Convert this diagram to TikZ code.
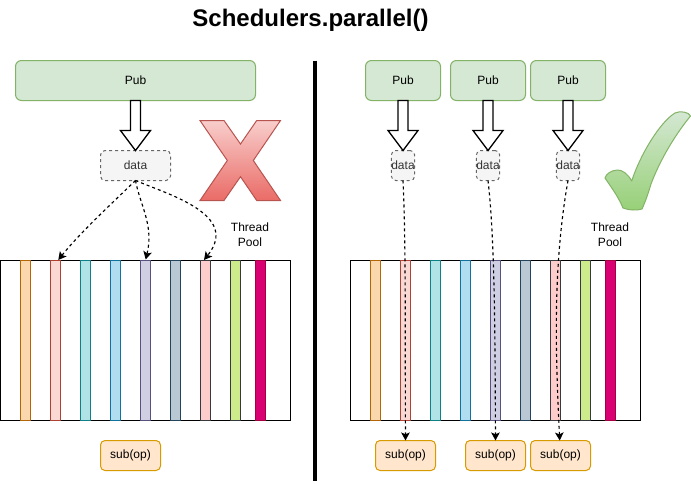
\documentclass[tikz,border=0pt]{standalone}
\usepackage{fontspec}
\setmainfont{Liberation Sans}
\usetikzlibrary{arrows.meta}
\definecolor{pubf}{HTML}{D5E8D4}\definecolor{pubd}{HTML}{82B366}
\definecolor{subf}{HTML}{FFE6CC}\definecolor{subd}{HTML}{D79B00}
\definecolor{dataf}{HTML}{F5F5F5}\definecolor{datad}{HTML}{666666}
\definecolor{datat}{HTML}{333333}
\definecolor{xtop}{HTML}{F8CECC}\definecolor{xbot}{HTML}{EA6B66}\definecolor{xd}{HTML}{B85450}
\definecolor{cbot}{HTML}{97D077}
\definecolor{af}{HTML}{FAD7AC}\definecolor{ad}{HTML}{B46504}
\definecolor{bf}{HTML}{FAD9D5}\definecolor{bd}{HTML}{AE4132}
\definecolor{cf}{HTML}{B0E3E6}\definecolor{cd}{HTML}{0E8088}
\definecolor{df}{HTML}{B1DDF0}\definecolor{dd}{HTML}{10739E}
\definecolor{ef}{HTML}{D0CEE2}\definecolor{ed}{HTML}{56517E}
\definecolor{ff}{HTML}{BAC8D3}\definecolor{fd}{HTML}{23445D}
\definecolor{gf}{HTML}{FFCCCC}\definecolor{gd}{HTML}{36393D}
\definecolor{hf}{HTML}{CDEB8B}
\definecolor{jf}{HTML}{D80073}\definecolor{jd}{HTML}{A50040}
\tikzset{
  base/.style={inner sep=0pt,outer sep=0pt,font=\fontsize{12}{15}\selectfont,align=center,line width=1pt},
  pubbox/.style={base,draw=pubd,fill=pubf,rounded corners=6pt,minimum height=40pt},
  databox/.style={base,draw=datad,fill=dataf,text=datat,dashed,dash pattern=on 3pt off 3pt,rounded corners=4.5pt,minimum height=30pt},
  subbox/.style={base,draw=subd,fill=subf,rounded corners=4.5pt,minimum width=60pt,minimum height=30pt},
  pool/.style={base,draw=black,fill=white,minimum width=290pt,minimum height=160pt},
  strip/.style={base,minimum width=10pt,minimum height=160pt},
  label/.style={base,text=black},
  flow/.style={line width=1.15pt,dash pattern=on 3pt off 3pt,-{Stealth[length=8pt,width=8.5pt,inset=1.8pt]}},
  blockarrow/.style={draw=black,fill=white,line width=1.3pt,line join=miter},
}
\newcommand{\blockarr}[2]{\draw[blockarrow] ([xshift=-5pt]#1.south) -- ++(0,30) -- ++(-10,0) -- (#2.north) -- ++(15,-20) -- ++(-10,0) -- ([xshift=5pt]#1.south) -- cycle;}
\newcommand{\strips}[2]{%
  \node[strip,draw=ad,fill=af] (#1a) at (#2+25,340.5) {};
  \node[strip,draw=bd,fill=bf] (#1b) at (#2+55,340.5) {};
  \node[strip,draw=cd,fill=cf] (#1c) at (#2+85,340.5) {};
  \node[strip,draw=dd,fill=df] (#1d) at (#2+115,340.5) {};
  \node[strip,draw=ed,fill=ef] (#1e) at (#2+145,340.5) {};
  \node[strip,draw=fd,fill=ff] (#1f) at (#2+175,340.5) {};
  \node[strip,draw=gd,fill=gf] (#1g) at (#2+205,340.5) {};
  \node[strip,draw=gd,fill=hf] (#1h) at (#2+235,340.5) {};
  \node[strip,draw=jd,fill=jf] (#1j) at (#2+260,340.5) {};}
\begin{document}
\begin{tikzpicture}[x=1pt,y=-1pt]
\useasboundingbox (0,0) rectangle (691,483);
\fill[white] (0,0) rectangle (691,483);
\node[base,font=\fontsize{24}{28}\selectfont\bfseries] (title) at (310.5,20) {Schedulers.parallel()};
\draw[line width=4pt,black] (315.3,60.5) coordinate (divtop) -- (315.3,480.5) coordinate (divbot);
% left
\node[pubbox,minimum width=240pt] (lpub) at (135.5,80.5) {Pub};
\node[databox,minimum width=70pt] (ldata) at (135.5,165.5) {data};
\blockarr{lpub}{ldata}
\node[pool] (lpool) at (145.5,340.5) {};
\strips{l}{0.5}
\node[subbox] (lsub) at (130.5,455.5) {sub(op)};
\node[label] (lthread) at (250,235) {Thread\\Pool};
\coordinate (t1) at (58.3,260);
\coordinate (t2) at (145.7,259.5);
\coordinate (t3) at (204,260);
\draw[flow] (ldata.south) .. controls (110,205) and (78,235) .. (t1);
\draw[flow] (ldata.south) .. controls (140,205) and (154,225) .. (t2);
\draw[flow] (ldata.south) .. controls (170,195) and (240,215) .. (t3);
\draw[draw=xd,top color=xtop,bottom color=xbot,line width=1pt] (200,120.5) -- (224,120.5) -- (240.5,144) -- (256.7,120.5) -- (280.5,120.5) -- (253.3,160.5) -- (280.5,200.5) -- (256.7,200.5) -- (240.5,176.7) -- (224,200.5) -- (200,200.5) -- (227.3,160.5) -- cycle;
% right
\node[pubbox,minimum width=75pt] (rpub1) at (403,80.5) {Pub};
\node[pubbox,minimum width=75pt] (rpub2) at (488,80.5) {Pub};
\node[pubbox,minimum width=75pt] (rpub3) at (568,80.5) {Pub};
\node[databox,minimum width=23pt] (rdata1) at (403,165.5) {data};
\node[databox,minimum width=23pt] (rdata2) at (488,165.5) {data};
\node[databox,minimum width=23pt] (rdata3) at (568,165.5) {data};
\blockarr{rpub1}{rdata1}
\blockarr{rpub2}{rdata2}
\blockarr{rpub3}{rdata3}
\node[pool] (rpool) at (495.5,340.5) {};
\strips{r}{350.5}
\node[subbox] (rsub1) at (405.5,455.5) {sub(op)};
\node[subbox] (rsub2) at (495.5,455.5) {sub(op)};
\node[subbox] (rsub3) at (560.5,455.5) {sub(op)};
\node[label] (rthread) at (610,235) {Thread\\Pool};
\draw[flow] (rdata1.south) .. controls (406,240) and (405,340) .. (rsub1.north);
\draw[flow] (rdata2.south) .. controls (495,240) and (495,340) .. (rsub2.north);
\draw[flow] (rdata3.south) .. controls (552,270) and (556,360) .. ([xshift=-0.8pt]rsub3.north);
\draw[draw=pubd,top color=pubf,bottom color=cbot,line width=1pt,line join=round]
  (690.5,116) .. controls (689,112) and (680,110.5) .. (675,113)
  .. controls (660,122) and (640,155) .. (631.7,181)
  .. controls (628,174) and (622,169.5) .. (617,170)
  .. controls (611,170.5) and (606,174) .. (605,178)
  .. controls (611,187) and (618,196) .. (623,208)
  .. controls (629,210.5) and (637,210.5) .. (642,209)
  .. controls (646,200) and (648,194) .. (651,184)
  .. controls (660,160) and (675,135) .. (690.5,116) -- cycle;
\end{tikzpicture}
\end{document}
